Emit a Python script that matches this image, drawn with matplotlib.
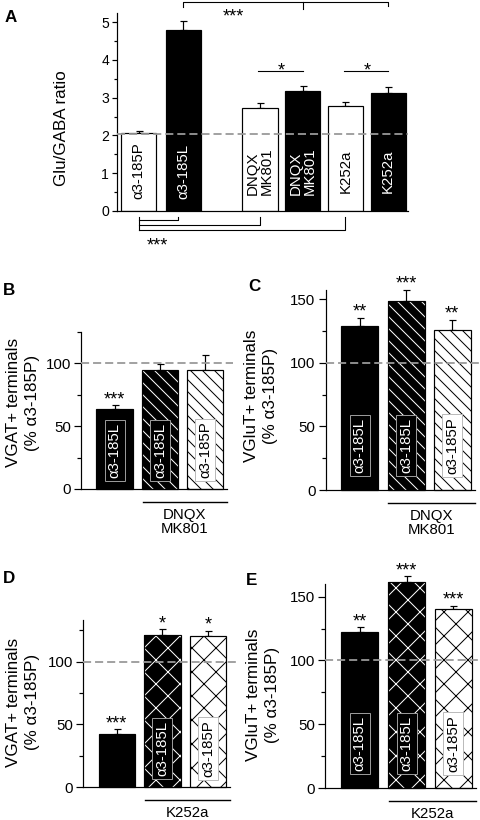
import matplotlib.pyplot as plt
from matplotlib.transforms import offset_copy

plt.rcParams['font.family'] = ['Liberation Sans', 'DejaVu Sans']

W, H, DPI = 480, 820, 72

# ---- panel A data
a_labels = ['α3-185P', 'α3-185L', 'DNQX\nMK801', 'DNQX\nMK801', 'K252a', 'K252a']
a_values = [2.07, 4.80, 2.72, 3.17, 2.78, 3.13]
a_errors = [0.06, 0.23, 0.13, 0.14, 0.11, 0.16]
a_ref = 2.05

# ---- panels B-E data
b_labels = ['α3-185L', 'α3-185L', 'α3-185P']
b_values = [63.5, 94.5, 94.5]
b_errors = [3.0, 5.0, 12.5]
b_stars = ['***', '', '']
c_labels = ['α3-185L', 'α3-185L', 'α3-185P']
c_values = [129, 149, 125.5]
c_errors = [6.5, 8.5, 8.5]
c_stars = ['**', '***', '**']
d_labels = ['', 'α3-185L', 'α3-185P']
d_values = [42, 121, 120]
d_errors = [4, 4.5, 4.5]
d_stars = ['***', '*', '*']
e_labels = ['α3-185L', 'α3-185L', 'α3-185P']
e_values = [122, 161.5, 140.5]
e_errors = [4, 4.5, 2.5]
e_stars = ['**', '***', '***']
ref = 100

DASH = dict(color='#999999', lw=1.8, dashes=(4.5, 2.2))
STAR = 18

fig = plt.figure(figsize=(W / DPI, H / DPI), dpi=DPI)


def axes_px(left, base, top, width):
    # pixel box (from top-left of figure) -> figure fraction
    return fig.add_axes([left / W, 1 - base / H, width / W, (base - top) / H])


def style(ax, fs, major, minor):
    for s in ['top', 'right']:
        ax.spines[s].set_visible(False)
    ax.spines['left'].set_linewidth(1.2)
    ax.spines['bottom'].set_linewidth(1.2)
    ax.set_xticks([])
    ax.tick_params(axis='y', which='major', length=major, width=1.2, labelsize=fs, pad=3)
    ax.tick_params(axis='y', which='minor', length=minor, width=1.2)


def errbars(ax, x, vals, errs):
    eb = ax.errorbar(x, vals, yerr=[[0] * len(errs), errs], fmt='none',
                     ecolor='black', elinewidth=1.2, capsize=3.5, capthick=1.2, zorder=1)
    for a in eb.lines[1] + eb.lines[2]:
        a.set_clip_on(False)


# ================= A
axA = axes_px(117, 211, 13, 291)
posA = [0, 1, 2.7, 3.65, 4.6, 5.55]
fills = ['white', 'black'] * 3
errbars(axA, posA, a_values, a_errors)
axA.bar(posA, a_values, width=0.78, color=fills, edgecolor='black', lw=1.2, zorder=2)
axA.axhline(a_ref, zorder=3, **DASH)
for x, lab, fc in zip(posA, a_labels, fills):
    axA.text(x, 1.06, lab, rotation=90, ha='center', va='center', fontsize=15,
             color='white' if fc == 'black' else 'black', multialignment='left',
             linespacing=1.0, zorder=4)
axA.set_xlim(-0.478, 5.99)
axA.set_ylim(0, 5.24)
axA.set_yticks(range(6))
axA.set_yticks([i + 0.5 for i in range(5)], minor=True)
style(axA, 14, 5, 3)
axA.set_ylabel('Glu/GABA ratio', fontsize=17)
axA.yaxis.set_label_coords(-0.165, 0.42)

lk = dict(color='black', lw=1.1, clip_on=False)
# top bracket
axA.plot([posA[1], posA[1], posA[5], posA[5]], [5.40, 5.53, 5.53, 5.42], **lk)
axA.plot([posA[3], posA[3]], [5.53, 5.34], **lk)
axA.text(2.1, 5.13, '***', ha='center', va='center', fontsize=STAR)
# pair brackets
for i, j in [(2, 3), (4, 5)]:
    axA.plot([posA[i] - 0.04, posA[j]], [3.70, 3.70], **lk)
    axA.text((posA[i] + posA[j]) / 2, 3.70, '*', ha='center', va='center', fontsize=STAR)
# bottom brackets
axA.plot([posA[0], posA[0]], [-0.16, -0.50], **lk)
for j, yy in [(1, -0.24), (2, -0.37), (4, -0.50)]:
    xe = posA[j] - (0.13 if j == 1 else 0)
    axA.plot([posA[0], xe, xe], [yy, yy, -0.16], **lk)
axA.text(0.41, -0.93, '***', ha='center', va='center', fontsize=STAR)


# ================= B-E
def small(box, labels, vals, errs, stars, hatch, ylim, majors, minors, boxy, ylabel,
          lab_xy, group):
    ax = axes_px(*box)
    x = [0, 1, 2]
    errbars(ax, x, vals, errs)
    ax.bar(x[0], vals[0], width=0.8, color='black', edgecolor='black', lw=1.2,
           zorder=2, clip_on=False)
    ax.bar(x[1], vals[1], width=0.8, color='black', edgecolor='white', hatch=hatch,
           lw=0, zorder=2, clip_on=False)
    ax.bar(x[2], vals[2], width=0.8, color='white', edgecolor='black', hatch=hatch,
           lw=0, zorder=2, clip_on=False)
    ax.bar(x[1:], vals[1:], width=0.8, fill=False, edgecolor='black', lw=1.2,
           zorder=2, clip_on=False)
    ax.plot([-0.74, 2.62], [ref, ref], clip_on=False, zorder=3, **DASH)
    for xi, lab in zip(x, labels):
        if not lab:
            continue
        dark = lab.endswith('L')
        ax.text(xi, boxy, lab, rotation=90, ha='center', va='center', fontsize=15,
                color='white' if dark else 'black', zorder=4,
                bbox=dict(boxstyle='square,pad=0.2', fc='black' if dark else 'white',
                          ec='#999999' if dark else '#bbbbbb', lw=1))
    for xi, v, e, s in zip(x, vals, errs, stars):
        if s:
            ax.annotate(s, (xi, v + e), xytext=(0, 1), textcoords='offset points',
                        ha='center', va='baseline', fontsize=STAR, annotation_clip=False)
    ax.set_xlim(-0.74, 2.48)
    ax.set_ylim(0, ylim)
    ax.set_yticks(majors)
    ax.set_yticks(minors, minor=True)
    style(ax, 15, 7, 4)
    ax.set_ylabel(ylabel, fontsize=17, linespacing=1.35)
    ax.yaxis.set_label_coords(*lab_xy)
    tr = offset_copy(ax.transData, fig=fig, y=-13, units='dots')
    ax.plot([0.62, 2.48], [0, 0], color='black', lw=1.4, transform=tr, clip_on=False)
    ax.annotate(group, (1.55, 0), xytext=(0, -19), textcoords='offset points',
                ha='center', va='top', fontsize=15, linespacing=1.0,
                annotation_clip=False)
    return ax


vgat = 'VGAT+ terminals\n(% α3-185P)'
vglu = 'VGluT+ terminals\n(% α3-185P)'
small((81, 489, 332, 146), b_labels, b_values, b_errors, b_stars, '\\\\', 125,
      [0, 50, 100], [25, 75, 125], 31, vgat, (-0.28, 0.55), 'DNQX\nMK801')
small((325.5, 490, 290.4, 149), c_labels, c_values, c_errors, c_stars, '\\\\', 157,
      [0, 50, 100, 150], [25, 75, 125], 35, vglu, (-0.32, 0.47), 'DNQX\nMK801')
small((83, 787.3, 620, 147), d_labels, d_values, d_errors, d_stars, 'x', 133,
      [0, 50, 100], [25, 75, 125], 31, vgat, (-0.29, 0.51), 'K252a')
small((325, 788.3, 583.8, 151), e_labels, e_values, e_errors, e_stars, 'x', 160,
      [0, 50, 100, 150], [25, 75, 125], 35, vglu, (-0.30, 0.456), 'K252a')

for lab, px, py in [('A', 5, 22), ('B', 3, 295), ('C', 248, 291), ('D', 3, 583), ('E', 246, 585)]:
    fig.text(px / W, 1 - py / H, lab, fontsize=17, fontweight='bold', va='baseline')

fig.savefig('out.png', dpi=DPI)
